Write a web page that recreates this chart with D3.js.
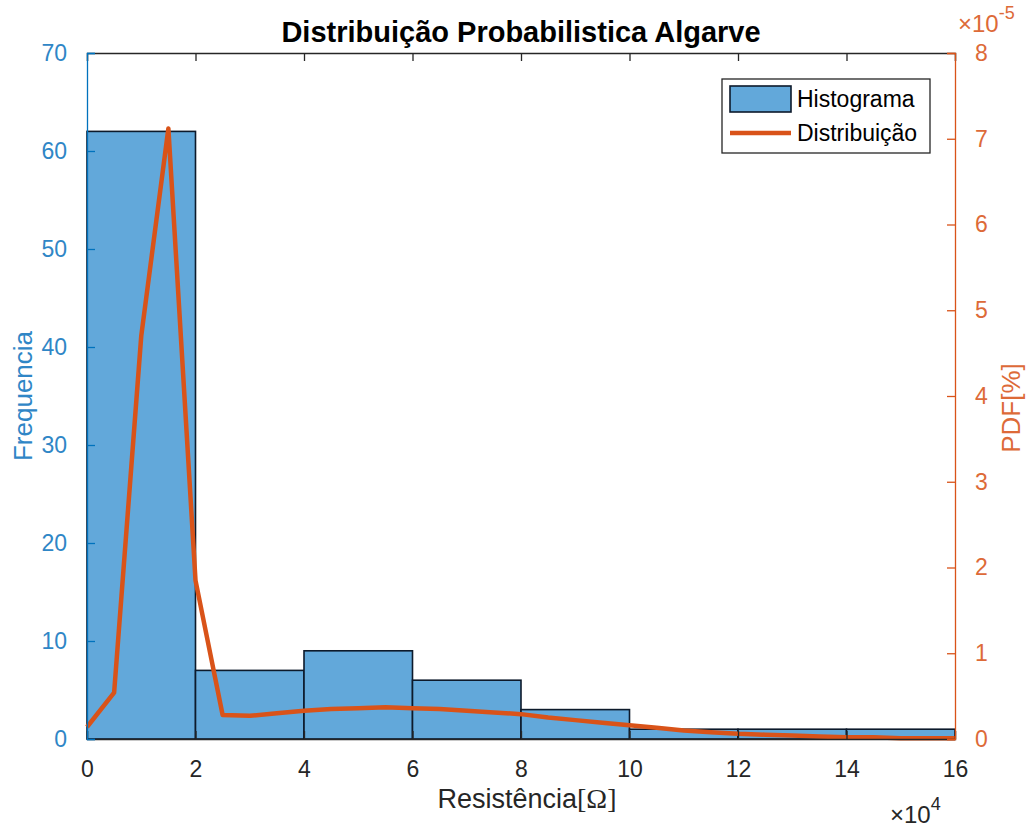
<!DOCTYPE html>
<html>
<head>
<meta charset="utf-8">
<script src="https://cdn.jsdelivr.net/npm/d3@7"></script>
<style>
  html, body { margin: 0; padding: 0; background: #ffffff; }
  svg { display: block; font-family: "Liberation Sans", Arial, Helvetica, sans-serif; }
</style>
</head>
<body>
<svg id="chart" width="1030" height="828"></svg>
<script>
// ---- Data (x in units of 10^4 Ω, PDF in units of 10^-5) ----
const binEdges = [0, 2, 4, 6, 8, 10, 12, 14, 16];
const counts = [62, 7, 9, 6, 3, 1, 1, 1];
const pdfX = [0, 0.5, 1, 1.5, 2, 2.5, 3, 3.5, 4, 4.5, 5, 5.5, 6, 6.5, 7, 7.5, 8, 8.5, 9, 9.5, 10, 10.5, 11, 11.5, 12, 12.5, 13, 13.5, 14, 14.5, 15, 15.5, 16];
const pdfY = [0.14, 0.54, 4.7, 7.12, 1.85, 0.28, 0.27, 0.30, 0.33, 0.35, 0.36, 0.37, 0.36, 0.35, 0.33, 0.31, 0.29, 0.25, 0.22, 0.19, 0.16, 0.13, 0.10, 0.08, 0.06, 0.05, 0.04, 0.03, 0.02, 0.02, 0.01, 0.01, 0.01];
const xTicks = [0, 2, 4, 6, 8, 10, 12, 14, 16];
const yLeftTicks = [0, 10, 20, 30, 40, 50, 60, 70];
const yRightTicks = [0, 1, 2, 3, 4, 5, 6, 7, 8];
const titleText = "Distribuição Probabilistica Algarve";
const xLabelMain = "Resistência";
const xLabelUnit = "[Ω]";
const yLeftLabelText = "Frequencia";
const yRightLabelText = "PDF[%]";
const legendLabels = ["Histograma", "Distribuição"];

// ---- Layout ----
const L = 87, R = 955, T = 53, B = 739;
const blue = "#0072bd", blueText = "#2f86c6";
const orange = "#d95319", orangeText = "#dd6a38";
const barFill = "#62a8da";
const dark = "#262626";
const tickLen = 8;
const fs = 23;

const svg = d3.select("#chart");
const x = d3.scaleLinear().domain([0, 16]).range([L, R]);
const yL = d3.scaleLinear().domain([0, 70]).range([B, T]);
const yR = d3.scaleLinear().domain([0, 8]).range([B, T]);

const bins = counts.map((c, i) => ({ x0: binEdges[i], x1: binEdges[i + 1], c }));

// Bars
svg.append("g").selectAll("rect").data(bins).join("rect")
  .attr("x", d => x(d.x0))
  .attr("y", d => yL(d.c))
  .attr("width", d => x(d.x1) - x(d.x0))
  .attr("height", d => yL(0) - yL(d.c))
  .attr("fill", barFill)
  .attr("stroke", "#0d1a2b")
  .attr("stroke-width", 1.6);

// PDF line
const line = d3.line().x((d, i) => x(pdfX[i])).y(d => yR(d));
svg.append("path").datum(pdfY)
  .attr("d", line)
  .attr("fill", "none")
  .attr("stroke", orange)
  .attr("stroke-width", 4.5)
  .attr("stroke-linejoin", "round");

// Bottom axis (ticks inside)
const xAxisB = d3.axisBottom(x).tickValues(xTicks).tickSize(-tickLen).tickPadding(tickLen + 14).tickFormat(d3.format("d"));
const gxB = svg.append("g").attr("transform", `translate(0,${B})`).call(xAxisB);
gxB.select(".domain").attr("stroke", dark).attr("stroke-width", 1.3);
gxB.selectAll(".tick line").attr("stroke", dark).attr("stroke-width", 1.3);
gxB.selectAll(".tick text").attr("fill", dark).attr("font-size", fs).attr("font-family", "Liberation Sans, Arial, sans-serif");

// Top axis (ticks inside, no labels)
const xAxisT = d3.axisTop(x).tickValues(xTicks).tickSize(-tickLen).tickFormat("");
const gxT = svg.append("g").attr("transform", `translate(0,${T})`).call(xAxisT);
gxT.select(".domain").attr("stroke", dark).attr("stroke-width", 1.3);
gxT.selectAll(".tick line").attr("stroke", dark).attr("stroke-width", 1.3);

// Left axis
const yAxisL = d3.axisLeft(yL).tickValues(yLeftTicks).tickSize(-tickLen).tickPadding(tickLen + 12).tickFormat(d3.format("d"));
const gyL = svg.append("g").attr("transform", `translate(${L},0)`).call(yAxisL);
gyL.select(".domain").attr("stroke", blue).attr("stroke-width", 1.3);
gyL.selectAll(".tick line").attr("stroke", blue).attr("stroke-width", 1.3);
gyL.selectAll(".tick text").attr("fill", blueText).attr("font-size", fs).attr("font-family", "Liberation Sans, Arial, sans-serif");

// Right axis
const yAxisR = d3.axisRight(yR).tickValues(yRightTicks).tickSize(-tickLen).tickPadding(tickLen + 12).tickFormat(d3.format("d"));
const gyR = svg.append("g").attr("transform", `translate(${R},0)`).call(yAxisR);
gyR.select(".domain").attr("stroke", orange).attr("stroke-width", 1.3);
gyR.selectAll(".tick line").attr("stroke", orange).attr("stroke-width", 1.3);
gyR.selectAll(".tick text").attr("fill", orangeText).attr("font-size", fs).attr("font-family", "Liberation Sans, Arial, sans-serif");

// Title
svg.append("text").attr("x", (L + R) / 2).attr("y", 42)
  .attr("text-anchor", "middle").attr("font-size", 29).attr("font-weight", "bold")
  .attr("fill", "#000").text(titleText);

// X label (unit part in serif, as in a TeX-interpreted label)
const xl = svg.append("text").attr("x", 527).attr("y", 808)
  .attr("text-anchor", "middle").attr("font-size", 27).attr("fill", dark);
xl.append("tspan").text(xLabelMain);
xl.append("tspan").attr("font-family", "Liberation Serif, Times New Roman, serif").attr("font-size", 28).text(xLabelUnit);

// Y left label
svg.append("text").attr("transform", `translate(32,${(T + B) / 2}) rotate(-90)`)
  .attr("text-anchor", "middle").attr("font-size", 26).attr("fill", blueText).text(yLeftLabelText);

// Y right label
svg.append("text").attr("transform", `translate(1020,${(T + B) / 2 + 12}) rotate(-90)`)
  .attr("text-anchor", "middle").attr("font-size", 26).attr("fill", orangeText).text(yRightLabelText);

// Exponent labels
const expR = svg.append("text").attr("x", 958).attr("y", 32).attr("font-size", 24).attr("fill", orangeText);
expR.append("tspan").text("×10");
expR.append("tspan").attr("dy", -13).attr("font-size", 18).text("-5");

const expB = svg.append("text").attr("x", 890).attr("y", 823).attr("font-size", 24).attr("fill", dark);
expB.append("tspan").text("×10");
expB.append("tspan").attr("dy", -13).attr("font-size", 18).text("4");

// Legend
const lg = svg.append("g");
lg.append("rect").attr("x", 722).attr("y", 79).attr("width", 208).attr("height", 74)
  .attr("fill", "#fff").attr("stroke", dark).attr("stroke-width", 1.3);
lg.append("rect").attr("x", 730).attr("y", 86).attr("width", 61).attr("height", 26)
  .attr("fill", barFill).attr("stroke", "#0d1a2b").attr("stroke-width", 1.6);
lg.append("line").attr("x1", 730).attr("x2", 791).attr("y1", 133).attr("y2", 133)
  .attr("stroke", orange).attr("stroke-width", 4.5);
lg.append("text").attr("x", 797).attr("y", 107).attr("font-size", fs).attr("fill", "#000").text(legendLabels[0]);
lg.append("text").attr("x", 797).attr("y", 141).attr("font-size", fs).attr("fill", "#000").text(legendLabels[1]);
</script>
</body>
</html>
